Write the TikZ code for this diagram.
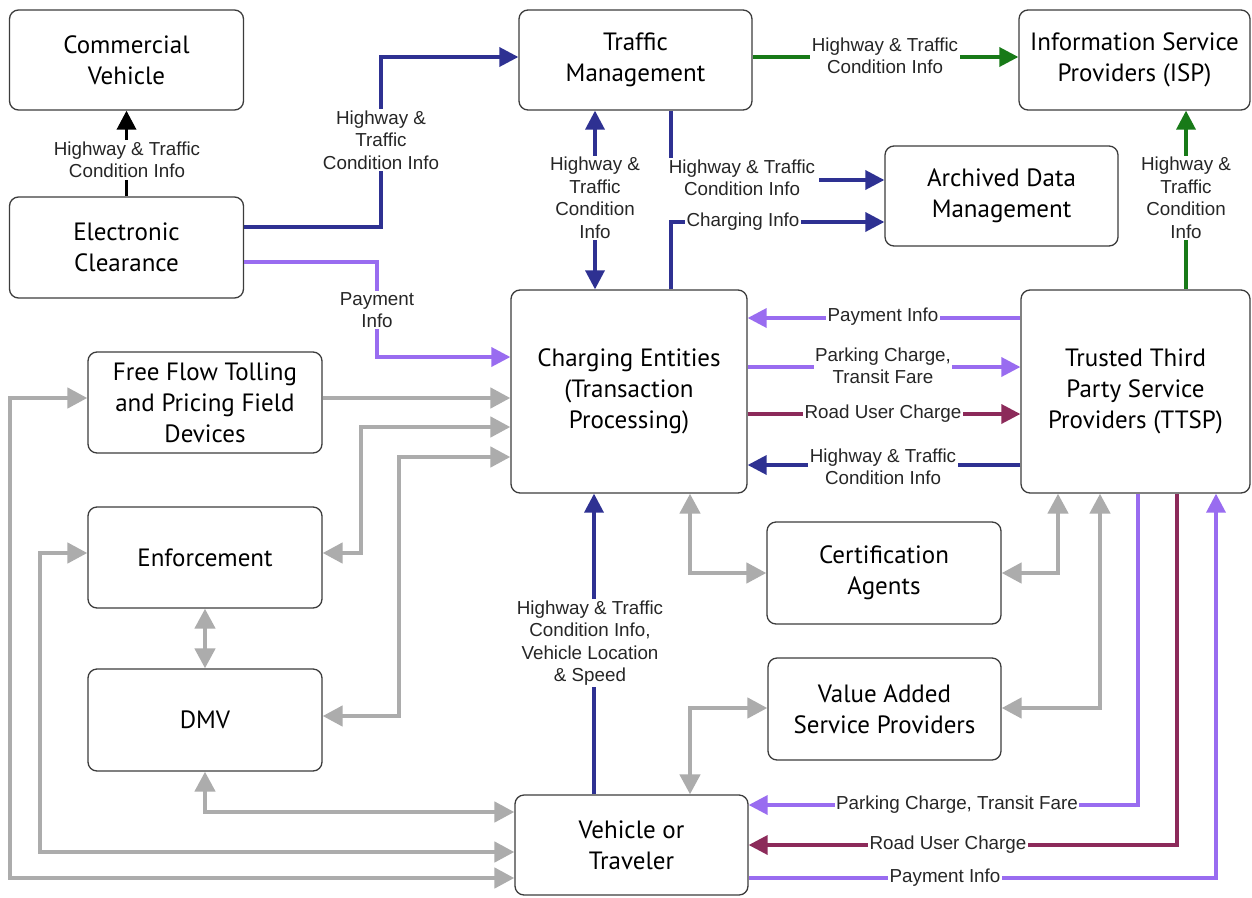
\documentclass[tikz,border=0pt]{standalone}
\usepackage{fontspec}
\setmainfont{PT Sans}
\newfontfamily\lblfont{Liberation Sans}
\usetikzlibrary{arrows.meta}
\definecolor{boxline}{RGB}{60,60,60}
\definecolor{linknavy}{RGB}{46,49,146}
\definecolor{linkviolet}{RGB}{153,108,240}
\definecolor{linkmaroon}{RGB}{140,42,90}
\definecolor{linkgreen}{RGB}{24,122,24}
\definecolor{linkgray}{RGB}{172,172,172}
\tikzset{
  box/.style={draw=boxline, line width=1.3pt, rounded corners=9pt, fill=white,
    align=center, inner sep=2pt, font=\fontsize{25}{31}\selectfont},
  lbl/.style={fill=white, inner sep=1.5pt, align=center,
    font=\lblfont\fontsize{18.8}{22.5}\selectfont, text=black!85},
  flow/.style={line width=3.5pt, -{Triangle[length=19pt,width=19pt]}},
  twoway/.style={draw=linkgray, line width=4.5pt,
    {Triangle[length=20pt,width=20pt]}-{Triangle[length=20pt,width=20pt]}},
  oneway/.style={draw=linkgray, line width=4.5pt, -{Triangle[length=20pt,width=20pt]}},
}
\begin{document}
\begin{tikzpicture}[x=1pt,y=-1pt]
\fill[white] (0,0) rectangle (1252,897);
\useasboundingbox (0,0) rectangle (1252,897);

% boxes
\node[box, minimum width=234pt, minimum height=100pt] (cv)   at (126.5,60)   {Commercial\\Vehicle};
\node[box, minimum width=234pt, minimum height=101pt] (ec)   at (126.5,247.5){Electronic\\Clearance};
\node[box, minimum width=233pt, minimum height=100pt] (tm)   at (635.5,60)   {Traffic\\Management};
\node[box, minimum width=231pt, minimum height=100pt] (isp)  at (1134.5,60)  {Information Service\\Providers (ISP)};
\node[box, minimum width=233pt, minimum height=100pt] (adm)  at (1001.5,196) {Archived Data\\Management};
\node[box, minimum width=236pt, minimum height=203pt] (ce)   at (629,391.5)  {Charging Entities\\(Transaction\\Processing)};
\node[box, minimum width=229pt, minimum height=203pt] (ttsp) at (1135.5,391.5){Trusted Third\\Party Service\\Providers (TTSP)};
\node[box, minimum width=234pt, minimum height=101pt] (ff)   at (205,402.5)  {Free Flow Tolling\\and Pricing Field\\Devices};
\node[box, minimum width=234pt, minimum height=101pt] (enf)  at (205,557.5)  {Enforcement};
\node[box, minimum width=234pt, minimum height=102pt] (dmv)  at (205,720)    {DMV};
\node[box, minimum width=234pt, minimum height=102pt] (cert) at (884,573)    {Certification\\Agents};
\node[box, minimum width=233pt, minimum height=102pt] (vas)  at (884.5,709)  {Value Added\\Service Providers};
\node[box, minimum width=233pt, minimum height=100pt] (vt)   at (631.5,845)  {Vehicle or\\Traveler};

% gray links
\draw[oneway] (ff.east |- 0,398) -- (ce.west |- 0,398);
\draw[twoway] (ff.west |- 0,398) -- (10,398) -- (10,878) -- (vt.west |- 0,878);
\draw[twoway] (enf.west |- 0,553) -- (40,553) -- (40,852) -- (vt.west |- 0,852);
\draw[twoway] (ce.west |- 0,427) -- (361,427) -- (361,553) -- (enf.east |- 0,553);
\draw[twoway] (ce.west |- 0,457) -- (399,457) -- (399,716) -- (dmv.east |- 0,716);
\draw[twoway] (enf.south) -- (dmv.north);
\draw[twoway] (dmv.south) -- (205,812) -- (vt.west |- 0,812);
\draw[twoway] (690,0 |- ce.south) -- (690,573) -- (cert.west |- 0,573);
\draw[twoway] (1058,0 |- ttsp.south) -- (1058,573) -- (cert.east |- 0,573);
\draw[twoway] (1100,0 |- ttsp.south) -- (1100,708) -- (vas.east |- 0,708);
\draw[twoway] (vas.west |- 0,708) -- (690,708) -- (690,0 |- vt.north);

% coloured links
\draw[flow, black] (ec.north) -- (cv.south);
\draw[flow, linknavy] (ec.east |- 0,227) -- (381,227) -- (381,57) -- (tm.west |- 0,57);
\draw[flow, linkviolet] (ec.east |- 0,262) -- (377,262) -- (377,357) -- (ce.west |- 0,357);
\draw[flow, linkgreen] (tm.east |- 0,57) -- (isp.west |- 0,57);
\draw[line width=3.5pt, linknavy, {Triangle[length=19pt,width=19pt]}-{Triangle[length=19pt,width=19pt]}]
  (595,0 |- tm.south) -- (595,0 |- ce.north);
\draw[flow, linknavy] (671,0 |- tm.south) -- (671,180) -- (adm.west |- 0,180);
\draw[flow, linknavy] (671,0 |- ce.north) -- (671,222) -- (adm.west |- 0,222);
\draw[flow, linkgreen] (1186,0 |- ttsp.north) -- (1186,0 |- isp.south);
\draw[flow, linkviolet] (ttsp.west |- 0,318) -- (ce.east |- 0,318);
\draw[flow, linkviolet] (ce.east |- 0,367) -- (ttsp.west |- 0,367);
\draw[flow, linkmaroon] (ce.east |- 0,414) -- (ttsp.west |- 0,414);
\draw[flow, linknavy] (ttsp.west |- 0,465) -- (ce.east |- 0,465);
\draw[flow, linknavy] (594,0 |- vt.north) -- (594,0 |- ce.south);
\draw[flow, linkviolet] (1138,0 |- ttsp.south) -- (1138,805) -- (vt.east |- 0,805);
\draw[flow, linkmaroon] (1177,0 |- ttsp.south) -- (1177,845) -- (vt.east |- 0,845);
\draw[flow, linkviolet] (vt.east |- 0,878) -- (1216,878) -- (1216,0 |- ttsp.south);

% labels
\node[lbl] (l1)  at (127,160)  {Highway \& Traffic\\Condition Info};
\node[lbl] (l2)  at (381,140)  {Highway \&\\Traffic\\Condition Info};
\node[lbl] (l3)  at (377,310)  {Payment\\Info};
\node[lbl] (l4)  at (885,56)   {Highway \& Traffic\\Condition Info};
\node[lbl] (l5)  at (595,198)  {Highway \&\\Traffic\\Condition\\Info};
\node[lbl, inner xsep=4pt] (l6)  at (742,178)  {Highway \& Traffic\\Condition Info};
\node[lbl] (l7)  at (743,222)  {Charging Info};
\node[lbl] (l8)  at (1186,198) {Highway \&\\Traffic\\Condition\\Info};
\node[lbl] (l9)  at (883,317)  {Payment Info};
\node[lbl] (l10) at (883,366)  {Parking Charge,\\Transit Fare};
\node[lbl] (l11) at (883,414)  {Road User Charge};
\node[lbl] (l12) at (883,467)  {Highway \& Traffic\\Condition Info};
\node[lbl] (l13) at (590,643)  {Highway \& Traffic\\Condition Info,\\Vehicle Location\\\& Speed};
\node[lbl] (l14) at (957,805)  {Parking Charge, Transit Fare};
\node[lbl] (l15) at (948,845)  {Road User Charge};
\node[lbl] (l16) at (945,878)  {Payment Info};
\end{tikzpicture}
\end{document}
